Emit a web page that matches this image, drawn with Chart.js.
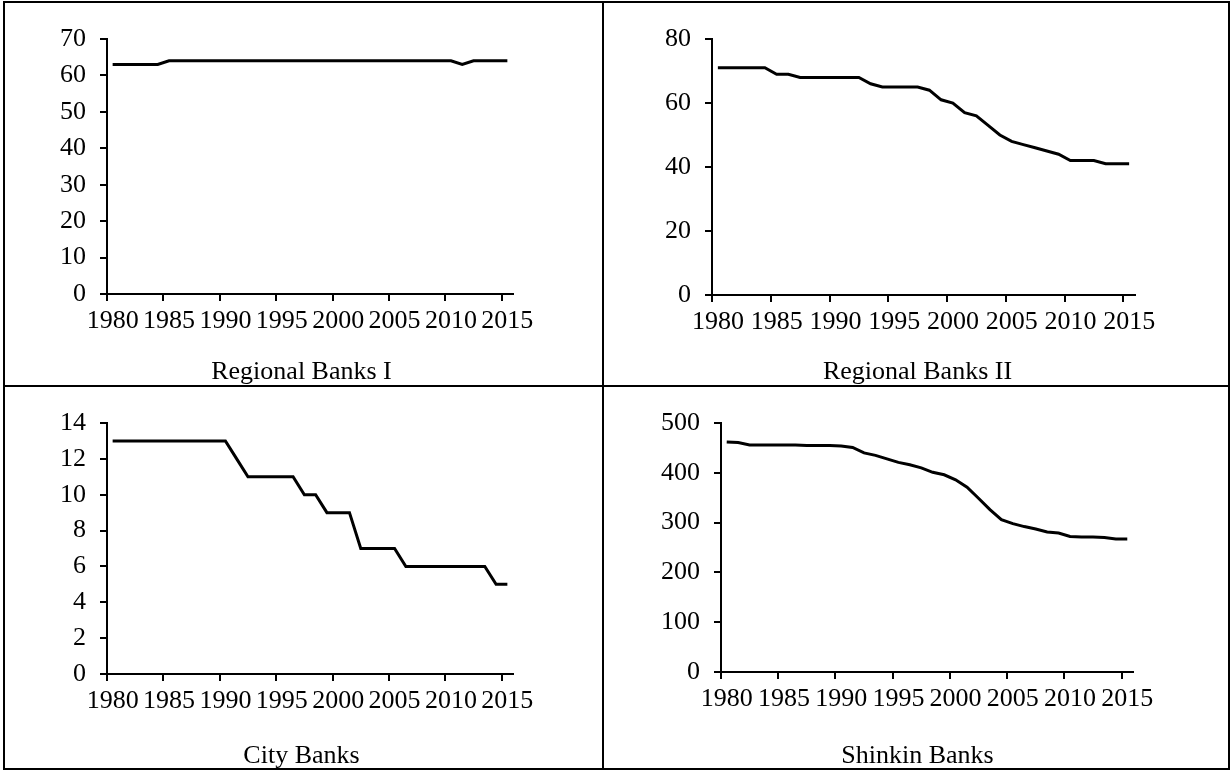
<!DOCTYPE html>
<html>
<head>
<meta charset="utf-8">
<script src="https://cdn.jsdelivr.net/npm/chart.js@4.4.0/dist/chart.umd.min.js"></script>
<style>
  html, body { margin: 0; padding: 0; background: #fff; }
  #page { position: relative; width: 1232px; height: 772px; overflow: hidden; background: #fff; }
  .cell { position: absolute; }
  .cell canvas { position: absolute; left: 0; top: 0; }
  .caption {
    position: absolute; left: 0; right: 0; text-align: center;
    font-family: "Liberation Serif", "Times New Roman", serif;
    font-size: 26px; line-height: 30px; color: #000;
  }
  .rule { position: absolute; background: #000; }
</style>
</head>
<body>
<div id="page">
  <div class="cell" style="left:0;top:0;width:603px;height:386px;">
    <canvas id="c1" width="603" height="386"></canvas>
    <div class="caption" style="top:356px;">Regional Banks I</div>
  </div>
  <div class="cell" style="left:603px;top:0;width:629px;height:386px;">
    <canvas id="c2" width="629" height="386"></canvas>
    <div class="caption" style="top:356px;">Regional Banks II</div>
  </div>
  <div class="cell" style="left:0;top:386px;width:603px;height:386px;">
    <canvas id="c3" width="603" height="386"></canvas>
    <div class="caption" style="top:354px;">City Banks</div>
  </div>
  <div class="cell" style="left:603px;top:386px;width:629px;height:386px;">
    <canvas id="c4" width="629" height="386"></canvas>
    <div class="caption" style="top:354px;">Shinkin Banks</div>
  </div>

  <!-- table frame -->
  <div class="rule" style="left:3px;top:1px;width:1227px;height:2px;"></div>
  <div class="rule" style="left:3px;top:768px;width:1227px;height:2px;"></div>
  <div class="rule" style="left:3px;top:1px;width:2px;height:769px;"></div>
  <div class="rule" style="left:1228px;top:1px;width:2px;height:769px;"></div>
  <div class="rule" style="left:602px;top:1px;width:2px;height:769px;"></div>
  <div class="rule" style="left:3px;top:385px;width:1227px;height:2px;"></div>
</div>

<script>
// Years on the horizontal axis
const years = [];
for (let y = 1980; y <= 2015; y++) years.push(String(y));

// Number of banks per year, 1980-2015
const regionalBanksI = [
  63, 63, 63, 63, 63, 64, 64, 64, 64, 64,
  64, 64, 64, 64, 64, 64, 64, 64, 64, 64,
  64, 64, 64, 64, 64, 64, 64, 64, 64, 64,
  64, 63, 64, 64, 64, 64
];
const regionalBanksII = [
  71, 71, 71, 71, 71, 69, 69, 68, 68, 68,
  68, 68, 68, 66, 65, 65, 65, 65, 64, 61,
  60, 57, 56, 53, 50, 48, 47, 46, 45, 44,
  42, 42, 42, 41, 41, 41
];
const cityBanks = [
  13, 13, 13, 13, 13, 13, 13, 13, 13, 13,
  13, 12, 11, 11, 11, 11, 11, 10, 10, 9,
  9, 9, 7, 7, 7, 7, 6, 6, 6, 6,
  6, 6, 6, 6, 5, 5
];
const shinkinBanks = [
  462, 461, 456, 456, 456, 456, 456, 455, 455, 455,
  454, 451, 440, 435, 428, 421, 416, 410, 401, 396,
  386, 371, 349, 326, 306, 298, 292, 287, 281, 279,
  272, 271, 271, 270, 267, 267
];

// Value-axis ranges
const yMaxRB1 = 70,  yStepRB1 = 10;
const yMaxRB2 = 80,  yStepRB2 = 20;
const yMaxCity = 14, yStepCity = 2;
const yMaxShinkin = 500, yStepShinkin = 100;

const FONT = { family: '"Liberation Serif", "Times New Roman", serif', size: 26 };
const Y_AXIS_W = 80;
const X_AXIS_H = 50;

function drawPanel(canvasId, values, yMax, yStep, area) {
  const canvas = document.getElementById(canvasId);
  const W = canvas.width, H = canvas.height;
  return new Chart(canvas, {
    type: 'line',
    data: {
      labels: years,
      datasets: [{
        data: values,
        borderColor: '#000',
        borderWidth: 3,
        pointRadius: 0,
        pointHoverRadius: 0,
        tension: 0,
        fill: false
      }]
    },
    options: {
      responsive: false,
      animation: false,
      devicePixelRatio: 1,
      events: [],
      layout: {
        padding: {
          left: area.left - Y_AXIS_W,
          top: area.top,
          right: W - area.right,
          bottom: H - area.bottom - X_AXIS_H
        }
      },
      plugins: { legend: { display: false }, tooltip: { enabled: false }, title: { display: false } },
      scales: {
        x: {
          type: 'category',
          offset: true,
          afterFit: s => { s.height = X_AXIS_H; },
          border: { display: true, color: '#000', width: 2 },
          grid: {
            offset: true,
            drawOnChartArea: false,
            drawTicks: true,
            tickLength: 7,
            lineWidth: 2,
            color: ctx => (ctx.index % 5 === 0 ? '#000' : 'rgba(0,0,0,0)'),
            tickColor: ctx => (ctx.index % 5 === 0 ? '#000' : 'rgba(0,0,0,0)')
          },
          ticks: {
            autoSkip: false,
            maxRotation: 0,
            minRotation: 0,
            padding: 5,
            color: '#000',
            font: FONT,
            callback: (v, i) => (i % 5 === 0 ? years[i] : '')
          }
        },
        y: {
          min: 0,
          max: yMax,
          afterFit: s => { s.width = Y_AXIS_W; },
          border: { display: true, color: '#000', width: 2 },
          grid: {
            drawOnChartArea: false,
            drawTicks: true,
            tickLength: 7,
            lineWidth: 2,
            color: '#000'
          },
          ticks: {
            stepSize: yStep,
            padding: 14,
            color: '#000',
            font: FONT
          }
        }
      }
    }
  });
}

drawPanel('c1', regionalBanksI, yMaxRB1, yStepRB1, { left: 107, right: 513, top: 39, bottom: 294 });
drawPanel('c2', regionalBanksII, yMaxRB2, yStepRB2, { left: 109, right: 532, top: 39, bottom: 295 });
drawPanel('c3', cityBanks, yMaxCity, yStepCity, { left: 107, right: 513, top: 37, bottom: 288 });
drawPanel('c4', shinkinBanks, yMaxShinkin, yStepShinkin, { left: 118, right: 530, top: 37, bottom: 286 });
</script>
</body>
</html>
